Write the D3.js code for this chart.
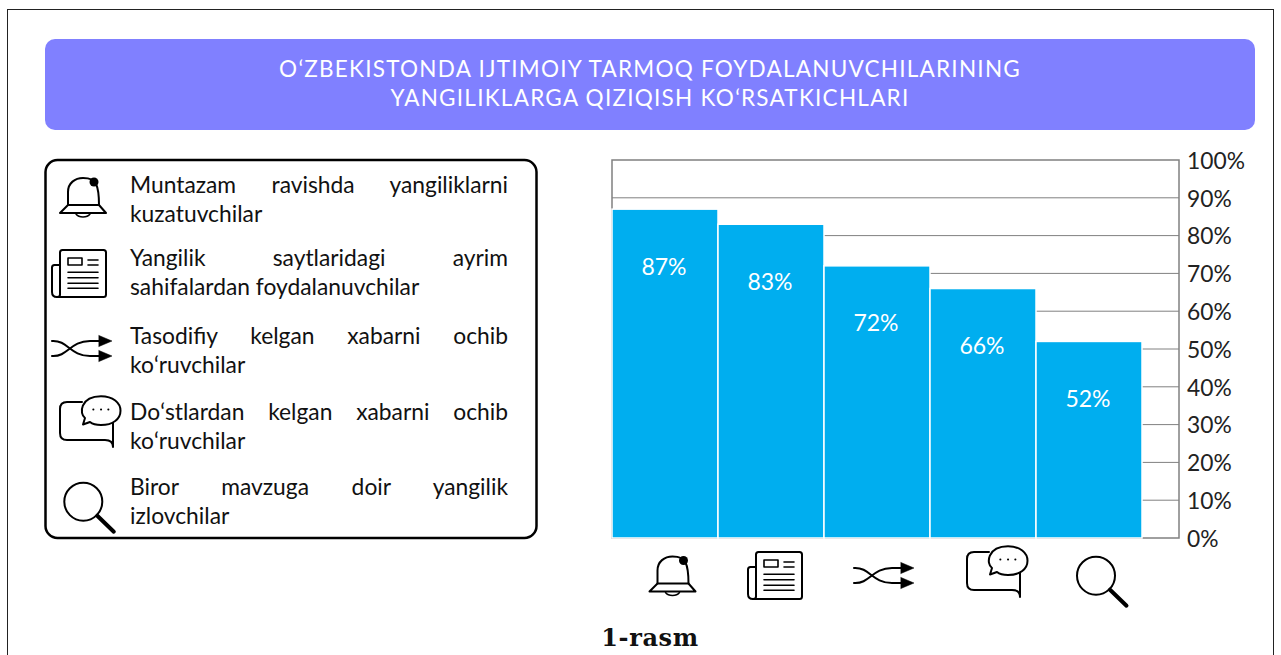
<!DOCTYPE html>
<html>
<head>
<meta charset="utf-8">
<script src="https://cdn.jsdelivr.net/npm/d3@7"></script>
<style>
  html, body { margin: 0; padding: 0; background: #fff; overflow: hidden; }
  svg { display: block; }
</style>
</head>
<body>
<div id="chart"></div>
<script>
// data
const categories = ["bell", "news", "shuffle", "chat", "search"];
const values = [87, 83, 72, 66, 52];
const yTicks = [0, 10, 20, 30, 40, 50, 60, 70, 80, 90, 100];
const titleLines = [
  "Oʻ".toUpperCase() + "ZBEKISTONDA IJTIMOIY TARMOQ FOYDALANUVCHILARINING",
  "YANGILIKLARGA QIZIQISH KOʻRSATKICHLARI"
];
const legendLines = [
  ["Muntazam ravishda yangiliklarni", "kuzatuvchilar"],
  ["Yangilik saytlaridagi ayrim", "sahifalardan foydalanuvchilar"],
  ["Tasodifiy kelgan xabarni ochib", "koʻruvchilar"],
  ["Doʻstlardan kelgan xabarni ochib", "koʻruvchilar"],
  ["Biror mavzuga doir yangilik", "izlovchilar"]
];
const caption = "1-rasm";

const width = 1281, height = 655;
const font = "Lato, 'Noto Sans', sans-serif";

const svg = d3.select("#chart").append("svg")
  .attr("width", width)
  .attr("height", height)
  .attr("viewBox", `0 0 ${width} ${height}`);

// page frame, runs off the bottom
svg.append("rect")
  .attr("x", 7.5).attr("y", 9.5)
  .attr("width", 1266).attr("height", 700)
  .attr("fill", "#fff").attr("stroke", "#222").attr("stroke-width", 1);

// title banner
svg.append("rect")
  .attr("x", 45).attr("y", 39)
  .attr("width", 1210).attr("height", 91)
  .attr("rx", 10)
  .attr("fill", "#8080ff");

svg.selectAll(".title").data(titleLines).enter().append("text")
  .attr("class", "title")
  .attr("x", 650)
  .attr("y", (d, i) => 77 + i * 29)
  .attr("text-anchor", "middle")
  .attr("font-family", font)
  .attr("font-size", 22.5)
  .attr("letter-spacing", 1.25)
  .attr("fill", "#fff")
  .text(d => d);

// icons are drawn around a local 0,0
function drawIcon(parent, name, cx, cy) {
  const g = parent.append("g")
    .attr("transform", `translate(${cx},${cy})`)
    .attr("fill", "none")
    .attr("stroke", "#000")
    .attr("stroke-width", 2)
    .attr("stroke-linejoin", "round")
    .attr("stroke-linecap", "round");
  if (name === "bell") {
    g.append("path").attr("d", "M-15,8 L-15,-5 C-15,-14 -8,-19 0,-19 C6,-19 11,-18 13,-13 C15,-9 16,-4 16,8");
    g.append("path").attr("d", "M-15,8 L16,8 L23,16 L-23,16 Z");
    g.append("path").attr("d", "M-7,17 C-4,21 4,21 7,17").attr("stroke-width", 1.5);
    g.append("circle").attr("cx", 11).attr("cy", -15).attr("r", 4.5).attr("fill", "#000").attr("stroke", "none");
  } else if (name === "news") {
    g.append("path").attr("d", "M-19,21 L-19,-21 Q-19,-23.5 -16.5,-23.5 L24.5,-23.5 Q27,-23.5 27,-21 L27,21 Q27,23.5 24.5,23.5 L-22,23.5 Q-27,23.5 -27,18.5 L-27,-6 Q-27,-8.5 -24.5,-8.5 L-19,-8.5");
    g.append("path").attr("d", "M-19,21 Q-19,23.5 -22,23.5");
    g.append("rect").attr("x", -11).attr("y", -15.5).attr("width", 14).attr("height", 7).attr("stroke-width", 1.6);
    g.append("path").attr("d", "M9,-13.5 L19,-13.5 M9,-8.5 L19,-8.5 M-11,-1.2 L19,-1.2 M-11,4.2 L19,4.2 M-11,9.8 L19,9.8 M-11,14.8 L19,14.8").attr("stroke-width", 1.6);
  } else if (name === "shuffle") {
    g.append("path").attr("d", "M-30,-7.5 C-14,-8.5 -12,7.5 8,7.5 L20,7.5");
    g.append("path").attr("d", "M-30,7.5 C-14,8.5 -12,-7.5 8,-7.5 L20,-7.5");
    g.append("path").attr("d", "M17,-13 L30,-7.5 L17,-2 Z M17,2 L30,7.5 L17,13 Z").attr("fill", "#000").attr("stroke", "#000").attr("stroke-width", 0.5);
  } else if (name === "chat") {
    g.append("path").attr("d", "M-5,-22 L-20,-22 Q-27,-22 -27,-15 L-27,9 Q-27,16 -20,16 L18,16 Q26,16 26,23 L26,-4");
    g.append("path").attr("d", "M-2,-6 C-8,-10 -7,-27.8 14,-27.8 C26,-27.8 33.5,-21 33.5,-13.3 C33.5,-5 26,1 14,1 C10,1 6,0.5 3,-2 L-4,0.5 Z").attr("fill", "#fff");
    g.append("path").attr("d", "M6.3,-14.5 L6.4,-14.5 M14,-14.5 L14.1,-14.5 M21.3,-14.5 L21.4,-14.5");
  } else if (name === "search") {
    g.append("circle").attr("r", 19);
    g.append("path").attr("d", "M14,14 L30.5,30").attr("stroke-width", 4);
  }
}

// legend box
svg.append("rect")
  .attr("x", 45.5).attr("y", 160)
  .attr("width", 491).attr("height", 378)
  .attr("rx", 12)
  .attr("fill", "#fff").attr("stroke", "#000").attr("stroke-width", 2.5);

const legendIconY = [197, 273.5, 348.5, 424, 501.7];
const legendIconX = [83, 79, 82, 87, 83.3];
const legendTextY = [192.5, 265.5, 343.5, 419.5, 494.5];
const textLeft = 130, textRight = 508;

legendLines.forEach((lines, i) => {
  drawIcon(svg, categories[i], legendIconX[i], legendIconY[i]);
  lines.forEach((line, j) => {
    const t = svg.append("text")
      .attr("x", textLeft)
      .attr("y", legendTextY[i] + j * 29)
      .attr("font-family", font)
      .attr("font-size", 22.8)
      .attr("fill", "#111")
      .text(line);
    // first line is justified to the column width
    if (j === 0) {
      const gaps = line.split(" ").length - 1;
      const extra = (textRight - textLeft - t.node().getComputedTextLength()) / gaps;
      t.attr("word-spacing", extra);
    }
  });
});

// chart
const x = d3.scaleBand()
  .domain(categories)
  .range([612, 1142]);

const y = d3.scaleLinear()
  .domain([0, 100])
  .range([538, 160]);

const plotLeft = 612, plotRight = 1179;

svg.append("rect")
  .attr("x", plotLeft).attr("y", y(100))
  .attr("width", plotRight - plotLeft).attr("height", y(0) - y(100))
  .attr("fill", "#fff").attr("stroke", "#808080").attr("stroke-width", 1.5);

svg.selectAll(".grid").data(yTicks.slice(1, -1)).enter().append("line")
  .attr("class", "grid")
  .attr("x1", plotLeft).attr("x2", plotRight)
  .attr("y1", d => y(d)).attr("y2", d => y(d))
  .attr("stroke", "#808080").attr("stroke-width", 1);

svg.selectAll(".bar").data(values).enter().append("rect")
  .attr("class", "bar")
  .attr("x", (d, i) => x(categories[i]))
  .attr("y", d => y(d))
  .attr("width", x.bandwidth())
  .attr("height", d => y(0) - y(d))
  .attr("fill", "#00aeef")
  .attr("stroke", "#fff")
  .attr("stroke-width", 1.5);

svg.selectAll(".bar-label").data(values).enter().append("text")
  .attr("class", "bar-label")
  .attr("x", (d, i) => x(categories[i]) + x.bandwidth() / 2 - 1)
  .attr("y", d => y(d) + 65.5)
  .attr("text-anchor", "middle")
  .attr("font-family", font)
  .attr("font-size", 23)
  .attr("fill", "#fff")
  .text(d => d + "%");

const yAxis = d3.axisRight(y)
  .tickValues(yTicks)
  .tickSize(0)
  .tickPadding(8)
  .tickFormat(d => d + "%");

const axisG = svg.append("g")
  .attr("transform", `translate(${plotRight},1)`)
  .call(yAxis);
axisG.select(".domain").remove();
axisG.selectAll("text")
  .attr("font-family", font)
  .attr("font-size", 22.8)
  .attr("fill", "#222");

// icons under the bars
const axisIconX = [672.5, 775, 884, 994, 1096];
const axisIconY = [575.5, 575.5, 575.5, 574, 575.7];
categories.forEach((c, i) => drawIcon(svg, c, axisIconX[i], axisIconY[i]));

// caption
svg.append("text")
  .attr("x", 650).attr("y", 645.5)
  .attr("text-anchor", "middle")
  .attr("font-family", "'DejaVu Serif', serif")
  .attr("font-weight", "bold")
  .attr("font-size", 24)
  .attr("letter-spacing", 0.6)
  .attr("fill", "#111")
  .text(caption);
</script>
</body>
</html>
